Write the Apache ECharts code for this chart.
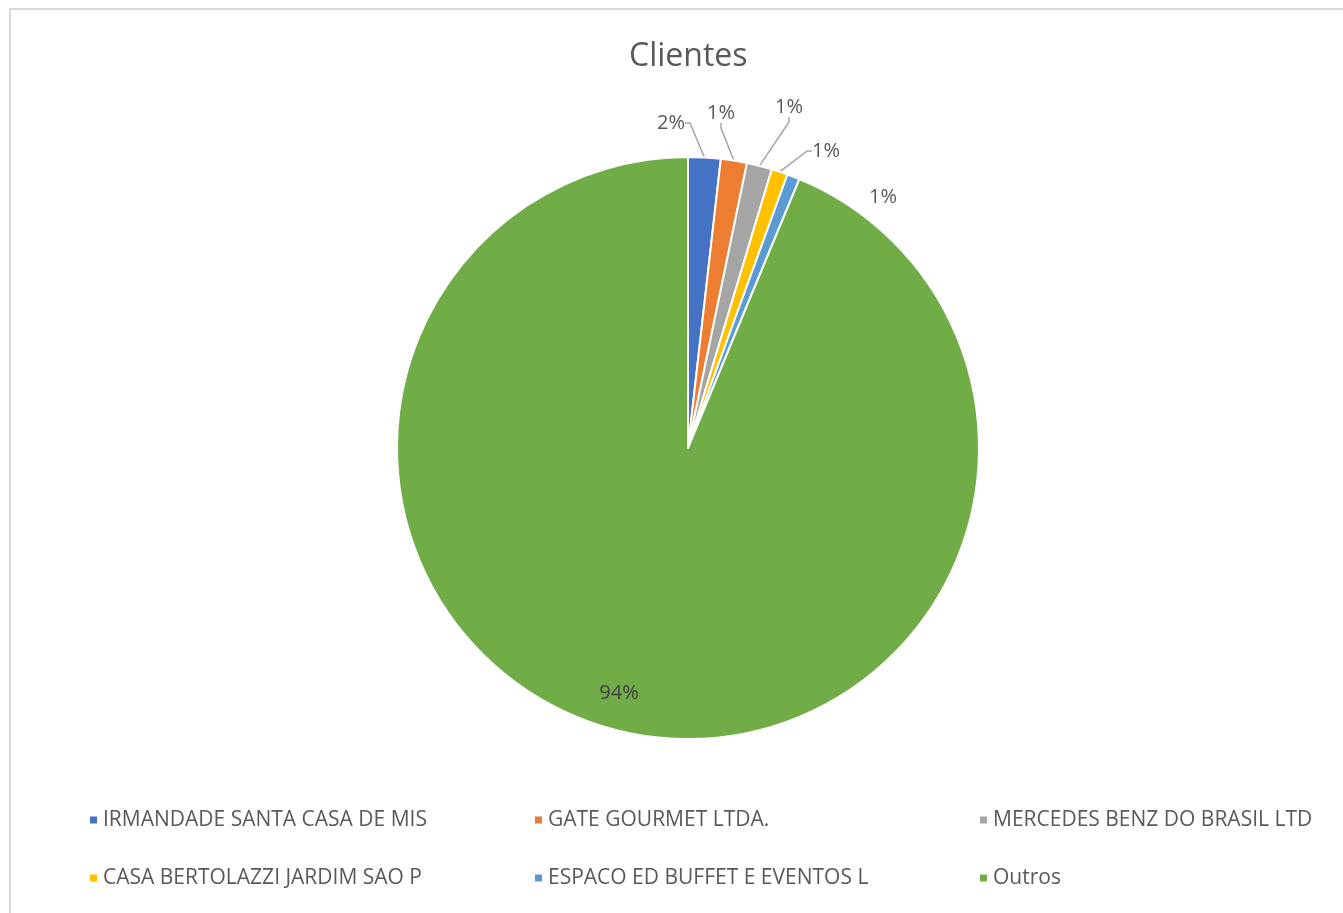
<!DOCTYPE html>
<html>
<head>
<meta charset="utf-8">
<script src="https://cdn.jsdelivr.net/npm/echarts@6/dist/echarts.min.js"></script>
<style>
  html, body { margin: 0; padding: 0; background: #fff; }
  #main { width: 1343px; height: 913px; }
</style>
</head>
<body>
<div id="main"></div>
<script>
// clientes e participação (%)
const clientes = [
  'IRMANDADE SANTA CASA DE MIS',
  'GATE GOURMET LTDA.',
  'MERCEDES BENZ DO BRASIL LTD',
  'CASA BERTOLAZZI JARDIM SAO P',
  'ESPACO ED BUFFET E EVENTOS L',
  'Outros'
];
const valores = [1.8, 1.45, 1.4, 0.9, 0.7, 93.75];
const cores = ['#4472C4', '#ED7D31', '#A5A5A5', '#FFC000', '#5B9BD5', '#70AD47'];

const fonte = "'Open Sans', 'Noto Sans', sans-serif";

// posição dos rótulos externos (centro do texto), como no Excel
const posRotulos = [[671, 123], [721, 113], [789, 107], [826, 151], [883, 197]];

const dados = clientes.map((nome, i) => {
  const d = { name: nome, value: valores[i], itemStyle: { color: cores[i] } };
  if (i === clientes.length - 1) {
    d.label = { position: 'inside', offset: [-40, 100], color: '#404040' };
    d.labelLine = { show: false };
  } else {
    d.labelLine = { show: i !== 4, length: 15, length2: 5 };
  }
  return d;
});

const chart = echarts.init(document.getElementById('main'));
chart.setOption({
  backgroundColor: '#fff',
  animation: false,
  textStyle: { fontFamily: fonte },
  graphic: [{
    type: 'rect',
    shape: { x: 10, y: 9, width: 1400, height: 1000 },
    style: { fill: 'none', stroke: '#d9d9d9', lineWidth: 2 },
    silent: true
  }],
  title: {
    text: 'Clientes',
    left: 624,
    top: 36,
    textStyle: { fontFamily: fonte, fontSize: 32, fontWeight: 'normal', color: '#595959' }
  },
  legend: {
    left: 88,
    top: 809,
    width: 1300,
    padding: 0,
    itemWidth: 9,
    itemHeight: 9,
    itemGap: 36,
    icon: 'rect',
    textStyle: { fontFamily: fonte, fontSize: 21, color: '#595959', width: 394, lineHeight: 22 },
    data: clientes
  },
  series: [{
    type: 'pie',
    center: [688, 448],
    radius: 291,
    startAngle: 90,
    clockwise: true,
    avoidLabelOverlap: false,
    itemStyle: { borderColor: '#fff', borderWidth: 2 },
    label: {
      show: true,
      position: 'outside',
      fontFamily: fonte,
      fontSize: 20,
      color: '#595959',
      formatter: p => Math.round(p.value) + '%'
    },
    labelLine: { lineStyle: { color: '#a6a6a6', width: 1.5 } },
    labelLayout: p => {
      const pos = posRotulos[p.dataIndex];
      if (!pos) return {};
      return { x: pos[0], y: pos[1], align: 'center', verticalAlign: 'middle' };
    },
    emphasis: { disabled: true },
    data: dados
  }]
});
</script>
</body>
</html>
